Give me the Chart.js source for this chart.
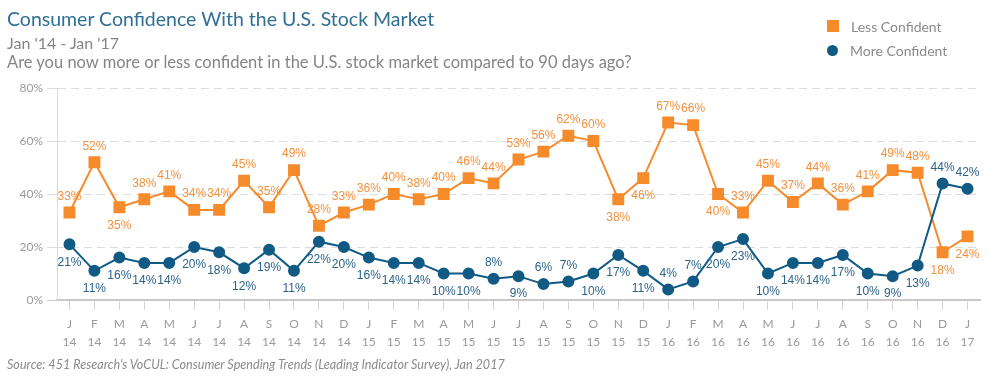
<!DOCTYPE html>
<html>
<head>
<meta charset="utf-8">
<script src="https://cdn.jsdelivr.net/npm/chart.js@4.4.1/dist/chart.umd.min.js"></script>
<style>
  body { margin: 0; width: 1003px; height: 384px; background: #fff; position: relative; overflow: hidden; font-family: Lato, sans-serif; }
  #chart { position: absolute; left: 0; top: 0; }
  .txt { position: absolute; left: 7px; white-space: nowrap; }
  #title { top: 7px; font-size: 19.5px; color: #2f6f94; }
  #sub { top: 33px; font-size: 16px; color: #858585; }
  #question { top: 52px; font-size: 16.5px; color: #858585; }
  #source { top: 357px; font-size: 12.6px; font-style: italic; color: #8a8a8a; }
  .leg { position: absolute; left: 827px; font-size: 14px; color: #8a8a8a; }
  .leg span { display: inline-block; vertical-align: middle; margin-right: 12px; }
  #leg1 { top: 16px; }
  #leg2 { top: 40px; }
  .sq { width: 12px; height: 12px; background: #f68b2c; }
  .dot { width: 11px; height: 11px; border-radius: 50%; background: #115a84; }
</style>
</head>
<body>
<canvas id="chart" width="1003" height="384"></canvas>
<div class="txt" id="title">Consumer Confidence With the U.S. Stock Market</div>
<div class="txt" id="sub">Jan '14 - Jan '17</div>
<div class="txt" id="question">Are you now more or less confident in the U.S. stock market compared to 90 days ago?</div>
<div class="txt" id="source">Source: 451 Research's VoCUL: Consumer Spending Trends (Leading Indicator Survey), Jan 2017</div>
<div class="leg" id="leg1"><span class="sq"></span><span>Less Confident</span></div>
<div class="leg" id="leg2"><span class="dot"></span><span>More Confident</span></div>
<script>
// month initials and year under each tick
const monthLetters = ['J','F','M','A','M','J','J','A','S','O','N','D',
                      'J','F','M','A','M','J','J','A','S','O','N','D',
                      'J','F','M','A','M','J','J','A','S','O','N','D','J'];
const yearLabels = ['14','14','14','14','14','14','14','14','14','14','14','14',
                    '15','15','15','15','15','15','15','15','15','15','15','15',
                    '16','16','16','16','16','16','16','16','16','16','16','16','17'];

const lessConfident = [33,52,35,38,41,34,34,45,35,49,28,33,
                       36,40,38,40,46,44,53,56,62,60,38,46,
                       67,66,40,33,45,37,44,36,41,49,48,18,24];
const moreConfident = [21,11,16,14,14,20,18,12,19,11,22,20,
                       16,14,14,10,10,8,9,6,7,10,17,11,
                       4,7,20,23,10,14,14,17,10,9,13,44,42];

const yTicks = [0, 20, 40, 60, 80];

// which point labels sit below / above their marker
const lessBelow = [2, 22, 23, 26, 35, 36];
const moreAbove = [17, 19, 20, 24, 25, 35, 36];

const pointLabels = {
  id: 'pointLabels',
  afterDatasetsDraw(chart) {
    const ctx = chart.ctx;
    chart.data.datasets.forEach((ds, i) => {
      const meta = chart.getDatasetMeta(i);
      meta.data.forEach((pt, j) => {
        const up = ds.labelUp(j);
        ctx.save();
        ctx.font = '12px "Liberation Sans", Arial, sans-serif';
        ctx.fillStyle = ds.labelColor;
        ctx.textAlign = 'center';
        ctx.textBaseline = 'middle';
        ctx.fillText(ds.data[j] + '%', pt.x, pt.y + (up ? -16 : 18));
        ctx.restore();
      });
    });
  }
};

new Chart(document.getElementById('chart'), {
  type: 'line',
  data: {
    labels: monthLetters.map((m, i) => [m, yearLabels[i]]),
    datasets: [
      {
        label: 'More Confident',
        data: moreConfident,
        borderColor: '#115a84',
        backgroundColor: '#115a84',
        borderWidth: 2,
        pointStyle: 'circle',
        pointRadius: 5,
        pointHoverRadius: 5,
        labelColor: '#2a628a',
        labelUp: j => moreAbove.includes(j)
      },
      {
        label: 'Less Confident',
        data: lessConfident,
        borderColor: '#f68b2c',
        backgroundColor: '#f68b2c',
        borderWidth: 2,
        pointStyle: 'rect',
        pointRadius: 7,
        pointHoverRadius: 7,
        labelColor: '#f2913e',
        labelUp: j => !lessBelow.includes(j)
      }
    ]
  },
  options: {
    responsive: false,
    animation: false,
    layout: { padding: { top: 88, right: 23, left: 0, bottom: 0 } },
    plugins: { legend: { display: false }, tooltip: { enabled: false } },
    scales: {
      x: {
        offset: true,
        afterFit: s => { s.height = 84; },
        grid: { drawOnChartArea: false, drawTicks: true, tickLength: 10, color: '#d4d4d4', offset: false },
        border: { display: true, color: '#c8c8c8', width: 2 },
        ticks: {
          color: '#9a9a9a',
          padding: 5,
          maxRotation: 0,
          autoSkip: false,
          font: { family: 'Lato, sans-serif', size: 12, lineHeight: 1.5 }
        }
      },
      y: {
        min: 0,
        max: 80,
        afterFit: s => { s.width = 57; },
        afterBuildTicks: s => { s.ticks = yTicks.map(v => ({ value: v })); },
        grid: {
          color: c => c.tick && c.tick.value === 0 ? '#c8c8c8' : '#dcdcdc',
          tickLength: 10,
          lineWidth: 1
        },
        border: { display: true, color: '#dcdcdc', width: 1, dash: [8, 5] },
        ticks: {
          color: '#9a9a9a',
          padding: 4,
          font: { family: 'Lato, sans-serif', size: 12 },
          callback: v => v + '%'
        }
      }
    }
  },
  plugins: [pointLabels]
});
</script>
</body>
</html>
